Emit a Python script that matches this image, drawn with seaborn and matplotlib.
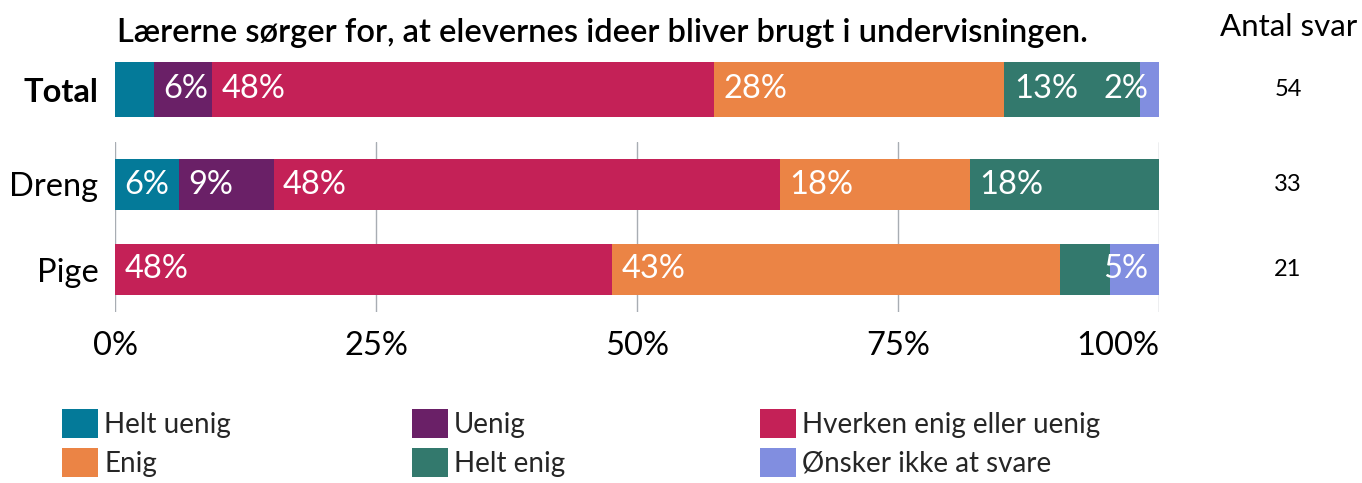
import matplotlib
matplotlib.use("Agg")
import matplotlib.pyplot as plt
from matplotlib.patches import Patch
import numpy as np
import pandas as pd
import seaborn as sns

# Survey answers (percent of respondents per group)
categories = ["Helt uenig", "Uenig", "Hverken enig eller uenig",
              "Enig", "Helt enig", "Ønsker ikke at svare"]
colors = ["#047A99", "#6A2067", "#C42157", "#EB8445", "#33796D", "#818EE0"]

groups = ["Total", "Dreng", "Pige"]
total_pct = [3.7, 5.6, 48.1, 27.8, 13.0, 1.9]
dreng_pct = [6.1, 9.1, 48.5, 18.2, 18.2, 0.0]
pige_pct = [0.0, 0.0, 47.6, 42.9, 4.8, 4.8]
counts = [54, 33, 21]

title = "Lærerne sørger for, at elevernes ideer bliver brugt i undervisningen."
xtick_vals = [0, 25, 50, 75, 100]
xtick_labels = ["0%", "25%", "50%", "75%", "100%"]

sns.set_theme(style="white")
plt.rcParams["font.family"] = ["Lato", "DejaVu Sans"]

BIG = 23.5

rows = []
for g, vals in zip(groups, [total_pct, dreng_pct, pige_pct]):
    cum = np.cumsum(vals)
    for c, v, right in zip(categories, vals, cum):
        rows.append({"group": g, "category": c, "value": v,
                     "left": right - v, "right": right})
df = pd.DataFrame(rows)

W, H = 1362, 483
fig = plt.figure(figsize=(W / 100, H / 100), dpi=100)
left = 115 / W
width = 1044 / W
ax_top = fig.add_axes([left, 1 - 117 / H, width, 55 / H])
ax_bot = fig.add_axes([left, 1 - 312 / H, width, 170 / H])


def draw_stack(ax, names, bar_width):
    sub = df[df["group"].isin(names)]
    # draw cumulative bars from the outermost segment inwards
    for cat, col in reversed(list(zip(categories, colors))):
        d = sub[sub["category"] == cat]
        sns.barplot(data=d, x="right", y="group", order=names, color=col,
                    width=bar_width, errorbar=None, orient="h",
                    linewidth=0, saturation=1, ax=ax)
    for i, g in enumerate(names):
        d = sub[sub["group"] == g]
        for _, r in d.iterrows():
            last = r["category"] == categories[-1]
            if r["value"] <= 0 or (r["value"] < 5 and not last):
                continue
            txt = f"{round(r['value'])}%"
            if last:
                ax.text(99.0, i, txt, color="white", fontsize=BIG,
                        ha="right", va="center")
            else:
                ax.text(r["left"] + 0.9, i, txt, color="white", fontsize=BIG,
                        ha="left", va="center")
    ax.set_xlim(0, 100)
    ax.set_xlabel("")
    ax.set_ylabel("")
    for s in ax.spines.values():
        s.set_visible(False)


draw_stack(ax_top, ["Total"], 1.0)
ax_top.set_ylim(0.5, -0.5)
ax_top.set_xticks([])
ax_top.tick_params(axis="y", length=0, pad=12, labelsize=BIG)
for lbl in ax_top.get_yticklabels():
    lbl.set_fontweight("bold")
    lbl.set_color("black")

draw_stack(ax_bot, ["Dreng", "Pige"], 0.61)
ax_bot.set_ylim(1.5, -0.5)
ax_bot.set_axisbelow(True)
ax_bot.set_xticks(xtick_vals)
ax_bot.set_xticklabels(xtick_labels)
ax_bot.grid(axis="x", color="#A8ADB3", linewidth=1.0)
ax_bot.grid(axis="y", visible=False)
ax_bot.tick_params(axis="x", length=0, pad=14, labelsize=BIG, labelcolor="black")
ax_bot.tick_params(axis="y", length=0, pad=12, labelsize=BIG, labelcolor="black")
ax_bot.get_xticklabels()[-1].set_horizontalalignment("right")

# respondent counts column
cx = (1288 - 115) / 1044
ax_top.text(cx, 0, str(counts[0]), transform=ax_top.get_yaxis_transform(),
            ha="center", va="center", fontsize=17, color="black")
for i, n in enumerate(counts[1:]):
    ax_bot.text(cx, i, str(n), transform=ax_bot.get_yaxis_transform(),
                ha="center", va="center", fontsize=17, color="black")

fig.text(117 / W, 1 - 33 / H, title, fontsize=BIG, fontweight="semibold",
         ha="left", va="center", color="black")
fig.text(1289 / W, 1 - 27 / H, "Antal svar", fontsize=22.5,
         ha="center", va="center", color="black")

# legend in three fixed columns
col_x = [62, 412, 760]
for j in range(3):
    idx = [j, j + 3]
    handles = [Patch(facecolor=colors[k], edgecolor="none") for k in idx]
    fig.legend(handles, [categories[k] for k in idx],
               loc="upper left", bbox_to_anchor=(col_x[j] / W, 1 - 409 / H),
               frameon=False, fontsize=20, handlelength=1.3,
               handleheight=1.25, handletextpad=0.22, labelspacing=0.33,
               borderpad=0, borderaxespad=0)

fig.savefig("out.png", dpi=100)
